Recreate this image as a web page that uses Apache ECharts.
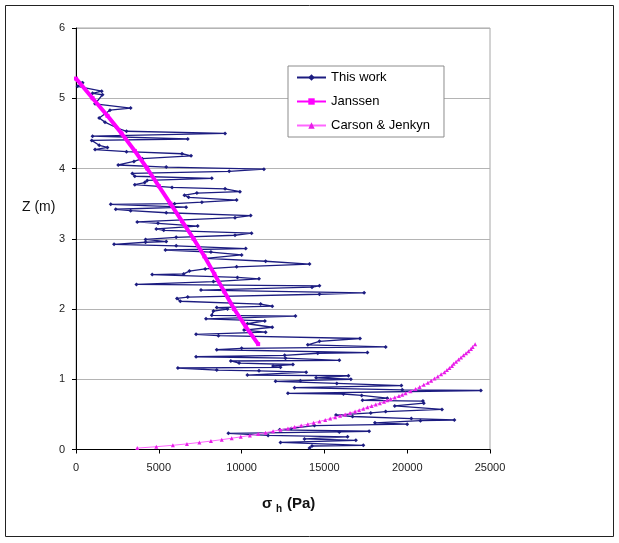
<!DOCTYPE html>
<html><head><meta charset="utf-8">
<script src="https://cdn.jsdelivr.net/npm/echarts@6/dist/echarts.min.js"></script>
<style>html,body{margin:0;padding:0;background:#fff}#c{width:619px;height:543px}</style>
</head><body><div id="c"></div>
<script>
const xTicks = [0, 5000, 10000, 15000, 20000, 25000];
const zTicks = [0, 1, 2, 3, 4, 5, 6];
const seriesNames = ['This work', 'Janssen', 'Carson & Jenkyn'];

// This work (measured profile), read top to bottom
const workX = [100,400,100,1550,1000,1600,1150,3300,2050,1400,1750,2450,3050,9000,1000,6750,950,1400,1900,1150,3050,6400,6950,4000,3500,2550,5450,11350,9250,3400,3550,8200,4300,4150,3550,5800,9000,9900,7300,6550,6800,9700,7600,5950,2100,6650,2400,3300,5450,10550,9600,3700,4950,7350,4850,5300,10600,9600,6050,4200,5450,4200,2300,6050,10250,5400,8150,10000,7850,11450,14100,9700,7800,6850,6500,4600,9750,11050,8300,3650,14700,14250,7550,17400,14700,6750,6100,6300,11150,11850,8500,9150,8300,8200,13250,7850,11400,10350,11850,10150,11450,7250,8600,17150,14700,14000,18700,10000,8500,17600,14600,12600,7250,12650,15900,9350,9850,13100,11900,12350,6150,8500,11050,13900,10350,16450,14500,16600,13550,12050,15750,19650,13200,19700,24450,12800,16150,17250,18800,17300,20950,21000,19250,22100,18700,17800,15700,16700,20250,22850,20800,18050,20000,14400,13000,12300,17700,15900,9200,11600,16400,13800,16900,12350,17350,14250,14100];
const workZ = [5.25,5.22,5.17,5.10,5.07,5.05,4.92,4.86,4.83,4.72,4.66,4.58,4.53,4.50,4.46,4.42,4.40,4.33,4.30,4.27,4.24,4.21,4.18,4.14,4.10,4.05,4.02,3.99,3.96,3.93,3.89,3.86,3.83,3.80,3.77,3.73,3.71,3.67,3.65,3.62,3.59,3.55,3.52,3.50,3.49,3.45,3.42,3.40,3.37,3.33,3.30,3.24,3.22,3.18,3.14,3.12,3.08,3.05,3.02,2.99,2.96,2.95,2.92,2.90,2.86,2.84,2.81,2.77,2.72,2.68,2.64,2.60,2.57,2.54,2.50,2.49,2.45,2.43,2.39,2.35,2.33,2.31,2.27,2.23,2.21,2.17,2.15,2.11,2.07,2.04,2.02,2.00,1.97,1.91,1.90,1.86,1.83,1.79,1.74,1.70,1.67,1.64,1.62,1.58,1.54,1.49,1.46,1.44,1.42,1.38,1.37,1.34,1.32,1.30,1.27,1.26,1.23,1.21,1.19,1.17,1.16,1.13,1.12,1.10,1.06,1.05,1.02,1.00,0.98,0.97,0.94,0.91,0.88,0.85,0.84,0.80,0.79,0.77,0.73,0.70,0.69,0.66,0.62,0.57,0.54,0.52,0.49,0.47,0.44,0.42,0.41,0.38,0.36,0.34,0.30,0.28,0.26,0.25,0.23,0.20,0.18,0.15,0.13,0.10,0.06,0.05,0.02];

// Janssen
const janssenX = [0,1000,1900,2750,3550,4300,5000,5700,6400,7100,7750,8350,8950,9550,10250,11000];
const janssenZ = [5.28,5.00,4.75,4.50,4.25,4.00,3.75,3.50,3.25,3.00,2.75,2.50,2.25,2.00,1.75,1.50];

// Carson & Jenkyn
const carsonX = [3700,4850,5850,6700,7450,8150,8800,9400,9950,10500,11000,11450,11900,12350,12800,13200,13600,14000,14350,14700,15050,15350,15650,15950,16250,16550,16850,17100,17350,17600,17850,18100,18350,18600,18800,19000,19250,19500,19700,19900,20200,20500,20750,21000,21250,21450,21650,21850,22050,22250,22400,22550,22700,22800,22950,23100,23250,23400,23550,23700,23850,23950,24100];
const carsonZ = [0.02,0.04,0.06,0.08,0.10,0.12,0.14,0.16,0.18,0.20,0.22,0.24,0.26,0.28,0.30,0.32,0.34,0.36,0.38,0.40,0.42,0.44,0.46,0.48,0.50,0.52,0.54,0.56,0.58,0.60,0.62,0.64,0.66,0.68,0.70,0.72,0.74,0.76,0.78,0.80,0.83,0.86,0.89,0.92,0.95,0.98,1.01,1.04,1.07,1.10,1.13,1.16,1.19,1.22,1.25,1.28,1.31,1.34,1.37,1.40,1.43,1.46,1.50];

const pairs = (xs, zs) => xs.map((x, i) => [x, zs[i]]);
const FONT = 'Liberation Sans';

const chart = echarts.init(document.getElementById('c'), null, {renderer: 'canvas'});
chart.setOption({
  animation: false,
  backgroundColor: '#fff',
  textStyle: {fontFamily: FONT},
  grid: {left: 76, right: 129, top: 28, bottom: 93.5, show: true, borderColor: '#a6a6a6', borderWidth: 1, backgroundColor: 'transparent'},
  xAxis: {
    type: 'value', min: xTicks[0], max: xTicks[xTicks.length - 1], interval: xTicks[1] - xTicks[0],
    axisLine: {show: true, onZero: false, lineStyle: {color: '#000', width: 1}},
    axisTick: {show: true, length: 4, lineStyle: {color: '#000'}},
    axisLabel: {fontSize: 11, color: '#222', margin: 13, fontFamily: FONT, formatter: v => String(v)},
    splitLine: {show: false}
  },
  yAxis: {
    type: 'value', min: zTicks[0], max: zTicks[zTicks.length - 1], interval: zTicks[1] - zTicks[0],
    axisLine: {show: true, onZero: false, lineStyle: {color: '#000', width: 1}},
    axisTick: {show: true, length: 4, lineStyle: {color: '#000'}},
    axisLabel: {fontSize: 11, color: '#222', margin: 11, fontFamily: FONT, formatter: v => String(v)},
    splitLine: {show: true, lineStyle: {color: '#b4b4b4', width: 1}}
  },
  legend: {
    orient: 'vertical', left: 288, top: 66,
    data: seriesNames,
    backgroundColor: '#fff', borderColor: '#8c8c8c', borderWidth: 1, borderRadius: 0,
    padding: [5, 14, 5, 8], itemGap: 11, itemWidth: 29, itemHeight: 8,
    textStyle: {fontSize: 13, color: '#000', fontFamily: FONT}
  },
  graphic: [
    {type: 'rect', shape: {x: 5.5, y: 5.5, width: 608, height: 531}, style: {fill: 'none', stroke: '#222', lineWidth: 1}, z: 100, silent: true},
    {type: 'text', left: 22, top: 200, style: {text: 'Z (m)', font: '14px ' + FONT, fill: '#111'}},
    {type: 'text', left: 262, top: 496, style: {text: 'σ', font: 'bold 15px ' + FONT, fill: '#111'}},
    {type: 'text', left: 276, top: 504, style: {text: 'h', font: 'bold 10px ' + FONT, fill: '#111'}},
    {type: 'text', left: 287, top: 496, style: {text: '(Pa)', font: 'bold 15px ' + FONT, fill: '#111'}}
  ],
  series: [
    {
      name: seriesNames[0], type: 'line', data: pairs(workX, workZ),
      symbol: 'diamond', symbolSize: 4, showSymbol: true,
      lineStyle: {color: '#1c1c80', width: 1.3},
      itemStyle: {color: '#1c1c80'}, z: 2
    },
    {
      name: seriesNames[1], type: 'line', data: pairs(janssenX, janssenZ),
      symbol: 'rect', symbolSize: 4, showSymbol: true,
      lineStyle: {color: '#ff00ff', width: 4},
      itemStyle: {color: '#ff00ff'}, z: 3
    },
    {
      name: seriesNames[2], type: 'line', data: pairs(carsonX, carsonZ),
      symbol: 'triangle', symbolSize: 4, showSymbol: true,
      lineStyle: {color: '#ff66ff', width: 1},
      itemStyle: {color: '#e81ee8'}, z: 4
    }
  ]
});
</script>
</body></html>
